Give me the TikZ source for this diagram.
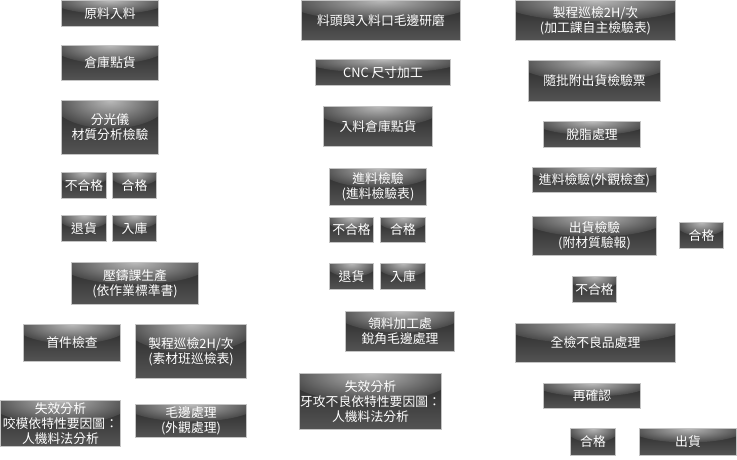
\documentclass[tikz,border=0pt]{standalone}
\usepackage{fontspec}
\setmainfont{Noto Sans CJK TC}
\usetikzlibrary{positioning,calc}
\definecolor{GlossEdge}{RGB}{196,196,196}
\definecolor{GlossDark}{RGB}{40,40,40}
\definecolor{GlossLow}{RGB}{84,84,84}
\definecolor{GlossShine}{RGB}{185,185,185}
\definecolor{GlossMid}{RGB}{72,72,72}
\tikzset{
  gloss/.style={draw=GlossEdge,line width=1pt,text=white,align=center,inner sep=0pt,
    font=\fontsize{12.8}{15}\selectfont,
    path picture={
      \fill[top color=GlossDark,bottom color=GlossLow]
        (path picture bounding box.south west) rectangle (path picture bounding box.north east);
      \shade[inner color=GlossShine,outer color=GlossMid]
        let \p1=(path picture bounding box.north east),\p2=(path picture bounding box.south west)
        in (path picture bounding box.north) ellipse [x radius={0.6*(\x1-\x2)},y radius={0.52*(\y1-\y2)}];
    }},
  cell/.style args={#1x#2}{gloss,minimum width=#1,minimum height=#2}
}

\begin{document}
\begin{tikzpicture}[x=1pt,y=-1pt]
  \useasboundingbox (0,0) rectangle (737,459);
  % left column
  \node[cell=97x26] (raw) at (110,13.5) {原料入料};
  \node[cell=97x35] (store) at (110,63) {倉庫點貨};
  \node[cell=97x54] (spectro) at (110,127.5) {分光儀\\材質分析檢驗};
  \node[cell=45x26] (rejectA) at (84,185.5) {不合格};
  \node[cell=44x26] (passA) at (134.5,185.5) {合格};
  \node[cell=45x26] (returnA) at (84,228.5) {退貨};
  \node[cell=44x26] (stockA) at (134.5,228.5) {入庫};
  \node[cell=127x42] (cast) at (135,283.5) {壓鑄課生產\\(依作業標準書)};
  \node[cell=97x37] (firstpiece) at (72,343) {首件檢查};
  \node[cell=111x54] (patrolA) at (191,351.5) {製程巡檢2H/次\\(素材班巡檢表)};
  \node[cell=120x46] (failA) at (60.5,423.5) {失效分析\\咬模依特性要因圖：\\人機料法分析};
  \node[cell=111x33] (burr) at (191,421) {毛邊處理\\(外觀處理)};
  % middle column
  \node[cell=159x40] (grind) at (381,20.5) {料頭與入料口毛邊研磨};
  \node[cell=135x26] (cnc) at (383,72.5) {CNC 尺寸加工};
  \node[cell=109x40] (instore) at (378,126.5) {入料倉庫點貨};
  \node[cell=97x37] (inspectB) at (378,187) {進料檢驗\\(進料檢驗表)};
  \node[cell=44x25] (rejectB) at (351.5,230) {不合格};
  \node[cell=45x25] (passB) at (403,230) {合格};
  \node[cell=44x26] (returnB) at (351.5,276.5) {退貨};
  \node[cell=45x26] (stockB) at (403,276.5) {入庫};
  \node[cell=109x40] (pick) at (400,331.5) {領料加工處\\銳角毛邊處理};
  \node[cell=142x56] (failB) at (370.5,401.5) {失效分析\\牙攻不良依特性要因圖：\\人機料法分析};
  % right column
  \node[cell=160x40] (patrolC) at (595.5,20.5) {製程巡檢2H/次\\(加工課自主檢驗表)};
  \node[cell=132x41] (ticket) at (594.5,81) {隨批附出貨檢驗票};
  \node[cell=97x26] (degrease) at (592,134.5) {脫脂處理};
  \node[cell=124x25] (inspectC) at (594.5,180) {進料檢驗(外觀檢查)};
  \node[cell=124x39] (shipcheck) at (594.5,236) {出貨檢驗\\(附材質驗報)};
  \node[cell=44x26] (passC) at (701.5,235.5) {合格};
  \node[cell=44x26] (rejectC) at (594.5,289.5) {不合格};
  \node[cell=160x39] (sorting) at (595.5,343) {全檢不良品處理};
  \node[cell=97x25] (recheck) at (592,396) {再確認};
  \node[cell=45x27] (passD) at (593,442) {合格};
  \node[cell=97x27] (deliver) at (688,442) {出貨};
\end{tikzpicture}
\end{document}
